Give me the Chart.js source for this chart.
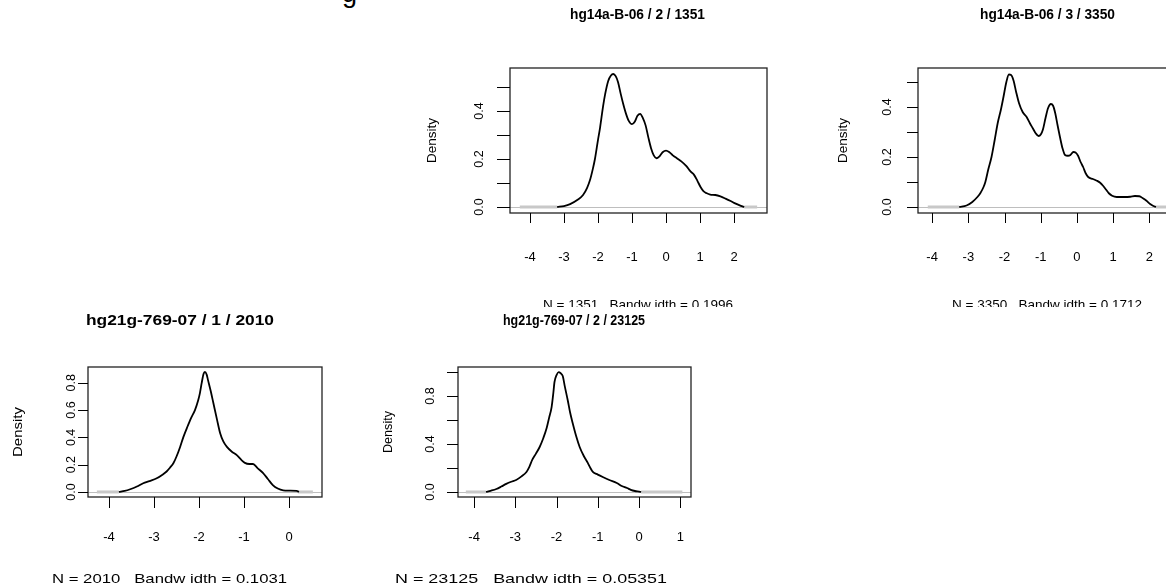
<!DOCTYPE html>
<html>
<head>
<meta charset="utf-8">
<script src="https://cdn.jsdelivr.net/npm/chart.js@4.4.1/dist/chart.umd.min.js"></script>
<style>
  html, body { margin: 0; padding: 0; background: #fff; }
  body { width: 1166px; height: 586px; overflow: hidden; position: relative; }
  canvas { position: absolute; left: 0; top: 0; }
  #outer { position: absolute; left: 342px; top: -22px; font: 27px "Liberation Sans", Arial, sans-serif; line-height: 30px; }
</style>
</head>
<body>
<div id="outer">g</div>
<canvas id="p0" width="1190" height="586"></canvas>
<canvas id="p1" width="1190" height="586"></canvas>
<canvas id="p2" width="1190" height="586"></canvas>
<canvas id="p3" width="1190" height="586"></canvas>
<script>
// panel titles and footers
const titles = ['hg14a-B-06 / 2 / 1351', 'hg14a-B-06 / 3 / 3350', 'hg21g-769-07 / 1 / 2010', 'hg21g-769-07 / 2 / 23125'];
const footers = ['N = 1351   Bandw idth = 0.1996', 'N = 3350   Bandw idth = 0.1712', 'N = 2010   Bandw idth = 0.1031', 'N = 23125   Bandw idth = 0.05351'];

// hg14a-B-06 / 2
const aX = [-3.2, -3.0, -2.82, -2.6, -2.44, -2.32, -2.24, -2.15, -2.09, -2.0, -1.94, -1.85, -1.79, -1.7, -1.62, -1.55, -1.48, -1.41, -1.33, -1.26, -1.18, -1.1, -1.0, -0.92, -0.84, -0.76, -0.68, -0.6, -0.52, -0.44, -0.36, -0.28, -0.2, -0.1, 0.0, 0.1, 0.2, 0.32, 0.45, 0.6, 0.72, 0.82, 0.92, 1.02, 1.1, 1.2, 1.3, 1.45, 1.6, 1.75, 1.9, 2.05, 2.2, 2.3];
const aY = [0.0, 0.004, 0.012, 0.03, 0.05, 0.08, 0.11, 0.16, 0.2, 0.28, 0.33, 0.42, 0.47, 0.525, 0.548, 0.554, 0.545, 0.52, 0.47, 0.43, 0.39, 0.36, 0.345, 0.355, 0.38, 0.388, 0.37, 0.34, 0.29, 0.245, 0.215, 0.203, 0.21, 0.228, 0.235, 0.228, 0.215, 0.203, 0.19, 0.17, 0.148, 0.135, 0.11, 0.082, 0.066, 0.057, 0.052, 0.05, 0.044, 0.035, 0.025, 0.014, 0.005, 0.0];
const aTails = [-4.3, -3.2, 2.3, 2.68];
const aXLim = [-4.588, 2.97], aYLim = [-0.025, 0.579];
const aXTicks = [-4, -3, -2, -1, 0, 1, 2];
const aYTicks = [0, 0.1, 0.2, 0.3, 0.4, 0.5];
const aYLabels = ['0.0', '', '0.2', '', '0.4', ''];

// hg14a-B-06 / 3
const bX = [-3.25, -3.05, -2.89, -2.75, -2.67, -2.58, -2.53, -2.45, -2.36, -2.27, -2.19, -2.1, -2.03, -1.95, -1.88, -1.82, -1.75, -1.68, -1.6, -1.5, -1.39, -1.3, -1.22, -1.14, -1.06, -1.0, -0.94, -0.87, -0.8, -0.72, -0.66, -0.6, -0.54, -0.47, -0.4, -0.33, -0.25, -0.18, -0.1, -0.04, 0.03, 0.1, 0.17, 0.24, 0.31, 0.44, 0.55, 0.64, 0.72, 0.8, 0.88, 0.97, 1.1, 1.3, 1.47, 1.6, 1.72, 1.82, 1.92, 2.02, 2.11, 2.18];
const bY = [0.0, 0.006, 0.02, 0.04, 0.055, 0.08, 0.1, 0.15, 0.2, 0.27, 0.335, 0.39, 0.44, 0.5, 0.53, 0.528, 0.505, 0.46, 0.415, 0.38, 0.36, 0.335, 0.315, 0.295, 0.284, 0.29, 0.31, 0.355, 0.395, 0.412, 0.405, 0.375, 0.33, 0.28, 0.235, 0.208, 0.205, 0.208, 0.22, 0.218, 0.205, 0.18, 0.16, 0.135, 0.12, 0.112, 0.105, 0.097, 0.085, 0.07, 0.055, 0.045, 0.04, 0.04, 0.041, 0.044, 0.043, 0.035, 0.025, 0.012, 0.004, 0.0];
const bTails = [-4.12, -3.25, 2.18, 2.63];
const bXLim = [-4.39, 2.9], bYLim = [-0.024, 0.556];
const bXTicks = [-4, -3, -2, -1, 0, 1, 2];
const bYTicks = [0, 0.1, 0.2, 0.3, 0.4, 0.5];
const bYLabels = ['0.0', '', '0.2', '', '0.4', ''];

// hg21g-769-07 / 1
const cX = [-3.78, -3.65, -3.53, -3.38, -3.24, -3.1, -2.94, -2.82, -2.72, -2.64, -2.57, -2.5, -2.42, -2.35, -2.27, -2.18, -2.09, -2.02, -1.98, -1.94, -1.9, -1.87, -1.83, -1.8, -1.74, -1.68, -1.6, -1.53, -1.46, -1.38, -1.27, -1.16, -1.06, -0.98, -0.88, -0.8, -0.7, -0.58, -0.47, -0.36, -0.25, -0.13, 0.0, 0.17, 0.22];
const cY = [0.0, 0.008, 0.02, 0.04, 0.064, 0.08, 0.1, 0.125, 0.15, 0.18, 0.21, 0.26, 0.33, 0.4, 0.468, 0.54, 0.6, 0.67, 0.725, 0.8, 0.865, 0.88, 0.86, 0.82, 0.74, 0.65, 0.53, 0.43, 0.37, 0.33, 0.295, 0.27, 0.235, 0.213, 0.205, 0.205, 0.175, 0.14, 0.095, 0.05, 0.025, 0.012, 0.01, 0.008, 0.0];
const cTails = [-4.27, -3.78, 0.2, 0.53];
const cXLim = [-4.467, 0.733], cYLim = [-0.037, 0.916];
const cXTicks = [-4, -3, -2, -1, 0];
const cYTicks = [0, 0.2, 0.4, 0.6, 0.8];
const cYLabels = ['0.0', '0.2', '0.4', '0.6', '0.8'];

// hg21g-769-07 / 2
const dX = [-3.71, -3.6, -3.46, -3.34, -3.22, -3.1, -2.98, -2.85, -2.73, -2.66, -2.59, -2.5, -2.41, -2.32, -2.24, -2.18, -2.12, -2.08, -2.05, -2.0, -1.95, -1.9, -1.85, -1.8, -1.73, -1.67, -1.61, -1.52, -1.44, -1.34, -1.24, -1.18, -1.12, -1.0, -0.88, -0.72, -0.54, -0.42, -0.29, -0.2, -0.1, 0.0, 0.05];
const dY = [0.0, 0.01, 0.025, 0.045, 0.067, 0.085, 0.1, 0.13, 0.167, 0.21, 0.267, 0.32, 0.375, 0.45, 0.533, 0.62, 0.708, 0.82, 0.917, 0.975, 1.0, 0.99, 0.967, 0.88, 0.767, 0.66, 0.575, 0.46, 0.375, 0.3, 0.24, 0.2, 0.167, 0.145, 0.125, 0.1, 0.075, 0.05, 0.033, 0.018, 0.008, 0.003, 0.0];
const dTails = [-4.2, -3.71, 0.05, 1.05];
const dXLim = [-4.39, 1.26], dYLim = [-0.042, 1.042];
const dXTicks = [-4, -3, -2, -1, 0, 1];
const dYTicks = [0, 0.2, 0.4, 0.6, 0.8, 1.0];
const dYLabels = ['0.0', '', '0.4', '', '0.8', ''];

// where each panel sits on the page
const layouts = [
    { box: [510, 68, 767, 213], xTickLen: 10, yTickLen: 13, yLabelX: 480, densX: 432, densW: 45, xLabelY: 257,
      titleY: 15, titleX: [570, 705], footY: 309, footX: [543, 733], clipY: 307 },
    { box: [918, 68, 1182, 213], xTickLen: 10, yTickLen: 11, yLabelX: 888, densX: 843, densW: 45, xLabelY: 257,
      titleY: 15, titleX: [980, 1115], footY: 309, footX: [952, 1142], clipY: 307 },
    { box: [88, 367, 322, 497], xTickLen: 11, yTickLen: 10, yLabelX: 72, densX: 18, densW: 50, xLabelY: 537,
      titleY: 321, titleX: [86, 274], footY: 583, footX: [52, 287] },
    { box: [458, 367, 691, 497], xTickLen: 11, yTickLen: 11, yLabelX: 431, densX: 388, densW: 42, xLabelY: 537,
      titleY: 321, titleX: [503, 645], footY: 583, footX: [395, 667] }
];

const panels = [
    { x: aX, y: aY, tails: aTails, xLim: aXLim, yLim: aYLim, xTicks: aXTicks, yTicks: aYTicks, yLabels: aYLabels },
    { x: bX, y: bY, tails: bTails, xLim: bXLim, yLim: bYLim, xTicks: bXTicks, yTicks: bYTicks, yLabels: bYLabels },
    { x: cX, y: cY, tails: cTails, xLim: cXLim, yLim: cYLim, xTicks: cXTicks, yTicks: cYTicks, yLabels: cYLabels },
    { x: dX, y: dY, tails: dTails, xLim: dXLim, yLim: dYLim, xTicks: dXTicks, yTicks: dYTicks, yLabels: dYLabels }
];

const FONT = '"Liberation Sans", Arial, Helvetica, sans-serif';
const CW = 1190, CH = 586;

// draw text centred at (cx, cy), optionally squeezed/stretched to a given width
function drawText(ctx, s, cx, cy, font, width, rot, baseline) {
    ctx.save();
    ctx.font = font;
    const w = ctx.measureText(s).width;
    ctx.translate(cx, cy);
    if (rot) ctx.rotate(rot);
    ctx.scale(width ? width / w : 1, 1);
    ctx.textAlign = 'center';
    ctx.textBaseline = baseline || 'middle';
    ctx.fillStyle = '#000';
    ctx.fillText(s, 0, 0);
    ctx.restore();
}

// R-like frame: zero line, box, ticks and labels
const rFrame = {
    id: 'rFrame',
    beforeDatasetsDraw(chart, args, opts) {
        const ctx = chart.ctx, area = chart.chartArea;
        const y0 = Math.round(chart.scales.y.getPixelForValue(0)) + 0.5;
        ctx.save();
        ctx.strokeStyle = '#bebebe';
        ctx.lineWidth = 1;
        ctx.beginPath();
        ctx.moveTo(area.left, y0);
        ctx.lineTo(area.right, y0);
        ctx.stroke();
        ctx.restore();
    },
    afterDraw(chart, args, opts) {
        const ctx = chart.ctx, area = chart.chartArea;
        const lay = opts.layout, p = opts.panel;
        const xs = chart.scales.x, ys = chart.scales.y;
        ctx.save();

        // box
        ctx.strokeStyle = '#222';
        ctx.lineWidth = 1.3;
        ctx.strokeRect(area.left, area.top, area.right - area.left, area.bottom - area.top);

        // ticks
        ctx.strokeStyle = '#000';
        ctx.lineWidth = 1;
        ctx.beginPath();
        p.xTicks.forEach(v => {
            const px = Math.round(xs.getPixelForValue(v)) + 0.5;
            ctx.moveTo(px, area.bottom);
            ctx.lineTo(px, area.bottom + lay.xTickLen);
        });
        p.yTicks.forEach(v => {
            const py = Math.round(ys.getPixelForValue(v)) + 0.5;
            ctx.moveTo(area.left, py);
            ctx.lineTo(area.left - lay.yTickLen, py);
        });
        ctx.stroke();

        // tick labels
        p.xTicks.forEach(v => {
            drawText(ctx, String(v), xs.getPixelForValue(v), lay.xLabelY, '13px ' + FONT);
        });
        p.yTicks.forEach((v, i) => {
            if (p.yLabels[i]) drawText(ctx, p.yLabels[i], lay.yLabelX, ys.getPixelForValue(v), '12.5px ' + FONT, 0, -Math.PI / 2);
        });

        // axis title, main title
        drawText(ctx, 'Density', lay.densX, (area.top + area.bottom) / 2, '13px ' + FONT, lay.densW, -Math.PI / 2);
        drawText(ctx, opts.title, (lay.titleX[0] + lay.titleX[1]) / 2, lay.titleY, 'bold 14px ' + FONT, lay.titleX[1] - lay.titleX[0]);

        // footer (top row is partly covered by the panels below)
        if (lay.clipY) {
            ctx.beginPath();
            ctx.rect(0, 0, CW, lay.clipY);
            ctx.clip();
        }
        drawText(ctx, opts.footer, (lay.footX[0] + lay.footX[1]) / 2, lay.footY, '13.5px ' + FONT, lay.footX[1] - lay.footX[0], 0, 'alphabetic');
        ctx.restore();
    }
};

panels.forEach((p, i) => {
    const lay = layouts[i];
    const curve = p.x.map((x, k) => ({ x: x, y: p.y[k] }));
    const tailL = [{ x: p.tails[0], y: 0 }, { x: p.tails[1], y: 0 }];
    const tailR = [{ x: p.tails[2], y: 0 }, { x: p.tails[3], y: 0 }];
    new Chart(document.getElementById('p' + i), {
        type: 'line',
        data: {
            datasets: [
                { data: curve, borderColor: '#000', borderWidth: 1.8, pointRadius: 0, cubicInterpolationMode: 'monotone', fill: false },
                { data: tailL, borderColor: '#c8c8c8', borderWidth: 3, pointRadius: 0, fill: false },
                { data: tailR, borderColor: '#c8c8c8', borderWidth: 3, pointRadius: 0, fill: false }
            ]
        },
        options: {
            responsive: false,
            animation: false,
            devicePixelRatio: 1,
            events: [],
            layout: {
                padding: { left: lay.box[0], top: lay.box[1], right: CW - lay.box[2], bottom: CH - lay.box[3] }
            },
            scales: {
                x: { type: 'linear', display: false, min: p.xLim[0], max: p.xLim[1] },
                y: { type: 'linear', display: false, min: p.yLim[0], max: p.yLim[1] }
            },
            plugins: {
                legend: { display: false },
                tooltip: { enabled: false },
                rFrame: { layout: lay, panel: p, title: titles[i], footer: footers[i] }
            }
        },
        plugins: [rFrame]
    });
});
</script>
</body>
</html>
